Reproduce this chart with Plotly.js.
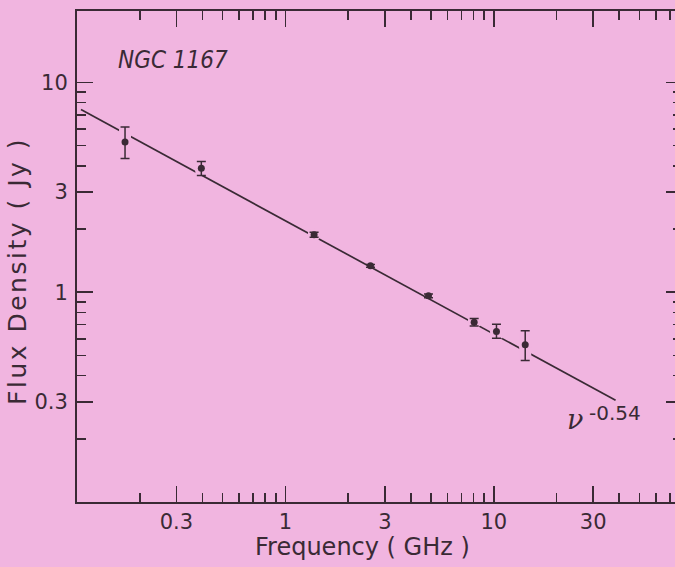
<!DOCTYPE html>
<html><head><meta charset="utf-8">
<script src="https://cdn.plot.ly/plotly-3.0.1.min.js"></script>
<style>html,body{margin:0;padding:0;overflow:hidden;background:#f1b5e0;}</style>
</head><body><div id="chart" style="width:690px;height:567px;"></div>
<script>
// Measured points (frequency in GHz, flux density in Jy)
const freqGHz   = [0.170, 0.395, 1.373, 2.56, 4.86, 8.05, 10.3, 14.15];
const fluxJy    = [5.19, 3.90, 1.878, 1.336, 0.961, 0.719, 0.650, 0.561];
const errPlus   = [0.93, 0.30, 0.05, 0.02, 0.02, 0.03, 0.054, 0.094];
const errMinus  = [0.86, 0.30, 0.05, 0.02, 0.02, 0.03, 0.047, 0.089];
const lineBreak = [true, true, true, false, false, true, true, true];

// Power-law fit S = A * nu^alpha
const fitAmp   = 2.19;
const fitIndex = -0.54;
const fitRange = [0.1045, 38.4];

// Axis ticks
const xMajor = [0.3, 1, 3, 10, 30];
const xMajorText = ['0.3', '1', '3', '10', '30'];
const xMinor = [0.2, 0.4, 0.5, 0.6, 0.7, 0.8, 0.9, 2, 4, 5, 6, 7, 8, 9, 20, 40, 50, 60, 70];
const yMajor = [0.3, 1, 3, 10];
const yMajorText = ['0.3', '1', '3', '10'];
const yMinor = [0.2, 0.4, 0.5, 0.6, 0.7, 0.8, 0.9, 2, 4, 5, 6, 7, 8, 9];

const bg = '#f1b5e0';
const ink = '#3a2a35';

const fitY = fitRange.map(v => fitAmp * Math.pow(v, fitIndex));

const gx = [], gy = [], gp = [], gm = [];
freqGHz.forEach((f, i) => { if (lineBreak[i]) { gx.push(f); gy.push(fluxJy[i]); gp.push(errPlus[i]); gm.push(errMinus[i]); } });

const traces = [
  { x: fitRange, y: fitY, mode: 'lines', line: { color: ink, width: 1.7 }, hoverinfo: 'skip', showlegend: false },
  { x: gx, y: gy, mode: 'markers', marker: { size: 13, color: bg, line: { width: 0 } },
    error_y: { type: 'data', array: gp, arrayminus: gm, visible: true, color: bg, thickness: 12, width: 0 },
    hoverinfo: 'skip', showlegend: false },
  { x: freqGHz, y: fluxJy, mode: 'markers', marker: { size: 7, color: ink },
    error_y: { type: 'data', array: errPlus, arrayminus: errMinus, visible: true, color: ink, thickness: 1.5, width: 4.5 },
    showlegend: false }
];

const axisCommon = {
  type: 'log', showline: true, linecolor: ink, linewidth: 2, mirror: 'ticks',
  ticks: 'inside', ticklen: 16, tickwidth: 1.6, tickcolor: ink,
  showgrid: false, zeroline: false, tickmode: 'array',
  tickfont: { family: 'DejaVu Sans', size: 21, color: ink },
};

const layout = {
  width: 690, height: 567,
  margin: { l: 77, r: 8, t: 11, b: 65 },
  paper_bgcolor: bg, plot_bgcolor: bg,
  xaxis: Object.assign({}, axisCommon, {
    range: [-1, Math.log10(80)], tickvals: xMajor, ticktext: xMajorText, ticklabelstandoff: 0,
    minor: { tickmode: 'array', tickvals: xMinor, ticks: 'inside', ticklen: 9, tickwidth: 1.6, tickcolor: ink, showgrid: false }
  }),
  yaxis: Object.assign({}, axisCommon, {
    range: [-1, 1.34], tickvals: yMajor, ticktext: yMajorText, ticklabelstandoff: 3,
    minor: { tickmode: 'array', tickvals: yMinor, ticks: 'inside', ticklen: 9, tickwidth: 1.6, tickcolor: ink, showgrid: false }
  }),
  annotations: [
    { text: 'Frequency ( GHz )', xref: 'paper', yref: 'paper', x: 0.472, y: -0.091, xanchor: 'center', yanchor: 'middle',
      showarrow: false, font: { family: 'DejaVu Sans', size: 24, color: ink } },
    { text: '<span style="letter-spacing:2.5px">Flux Density ( Jy )</span>', xref: 'paper', yref: 'paper', x: -0.098, y: 0.47, xanchor: 'center', yanchor: 'middle',
      textangle: -90, showarrow: false, font: { family: 'DejaVu Sans', size: 25, color: ink } },
    { text: 'NGC 1167', xref: 'paper', yref: 'paper', x: 0.064, y: 0.9, xanchor: 'left', yanchor: 'middle',
      showarrow: false, font: { family: 'DejaVu Sans Condensed, DejaVu Sans', size: 24, style: 'italic', color: ink } },
    { text: 'ν', xref: 'paper', yref: 'paper', x: 0.823, y: 0.168, xanchor: 'center', yanchor: 'middle',
      showarrow: false, font: { family: 'DejaVu Serif', size: 27, style: 'italic', color: ink } },
    { text: '-0.54', xref: 'paper', yref: 'paper', x: 0.843, y: 0.182, xanchor: 'left', yanchor: 'middle',
      showarrow: false, font: { family: 'DejaVu Sans', size: 20, color: ink } }
  ]
};

Plotly.newPlot('chart', traces, layout, { staticPlot: true, displayModeBar: false });
</script></body></html>
